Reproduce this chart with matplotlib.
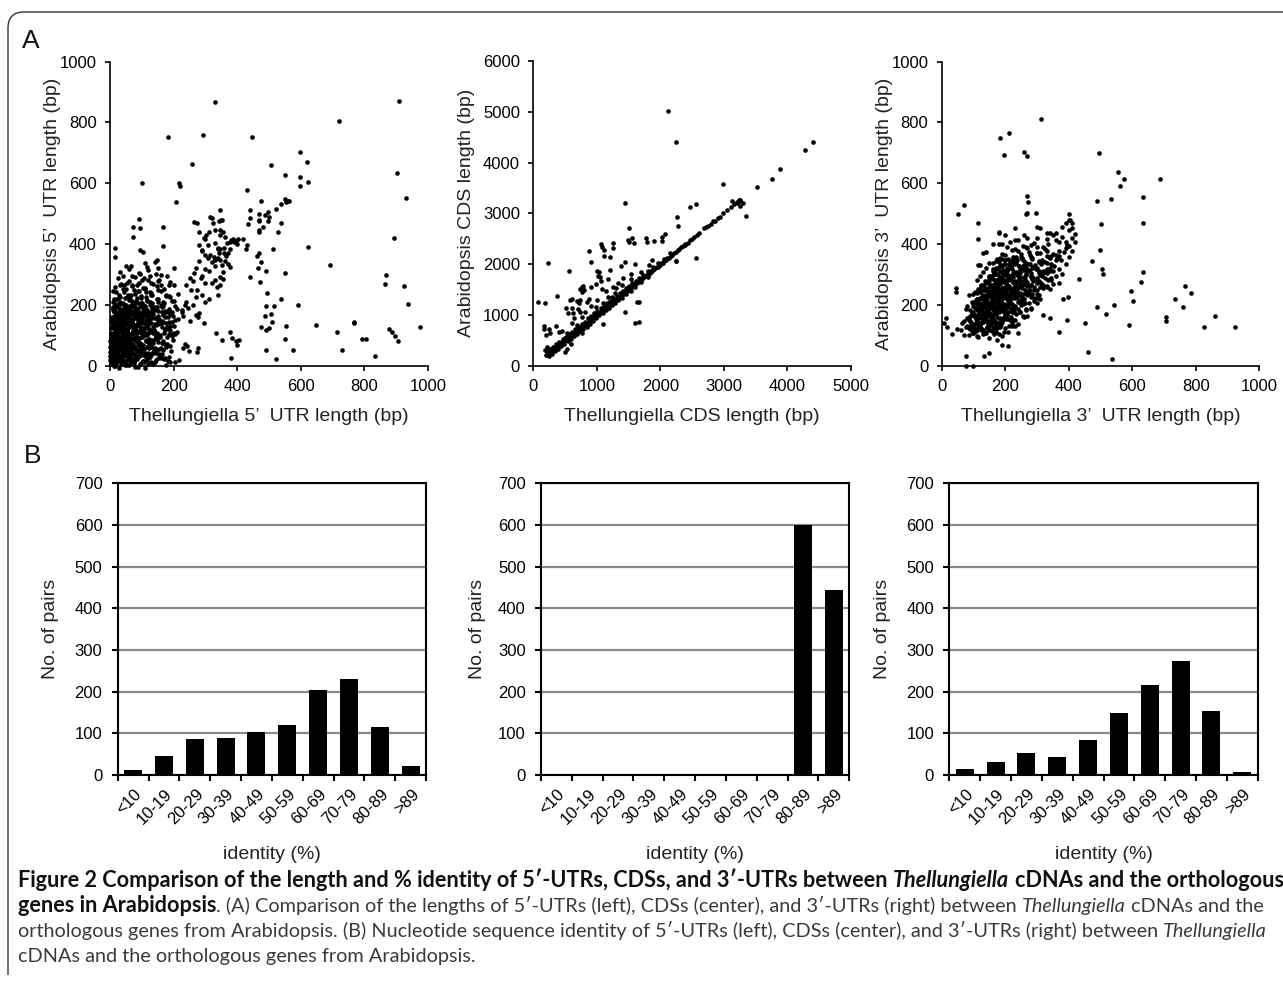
import numpy as np
import matplotlib
matplotlib.use('Agg')
import matplotlib.pyplot as plt
from matplotlib.path import Path
from matplotlib.patches import PathPatch
from matplotlib.transforms import ScaledTranslation

# ---------------- data ----------------
# Panel A-left: 5'UTR lengths (Thellungiella x, Arabidopsis y)
p1_points = [(330,866),(910,870),(719,804),(183,752),(292,760),(448,752),(257,663),(507,660),(596,703),(619,669),
 (901,635),(549,628),(599,622),(622,604),(596,592),(102,600),(218,602),(221,592),(930,553),(432,578),(206,537),
 (474,541),(549,548),(561,541),(553,537),(564,541),(522,516),(538,531),(441,512),(470,500),(486,496),(500,488),
 (498,505),(439,485),(435,466),(468,476),(470,479),(482,457),(498,476),(538,470),(528,441),(470,439),(468,446),
 (892,421),(622,392),(514,384),(470,370),(463,362),(388,417),(402,416),(399,399),(378,406),(395,411),(419,416),
 (430,397),(427,383),(441,293),(476,341),(465,320),(490,312),(549,306),(473,274),(693,331),(868,298),(864,268),
 (925,262),(938,203),(975,128),(590,200),(537,221),(493,238),(489,196),(487,164),(507,171),(517,196),(509,145),
 (501,123),(475,126),(490,117),(490,52),(549,88),(554,130),(574,52),(523,21),(648,134),(713,112),(731,52),
 (766,145),(768,139),(792,88),(806,88),(832,32),(876,121),(887,112),(896,98),(906,80),(378,112),(383,92),
 (395,82),(405,84),(399,68),(332,109),(351,83),(380,24),(278,159),(296,139),(276,57),(273,44),(243,65),(247,48),
 (229,57),(236,73),(217,19),(181,16),(186,30),(173,24),(168,52),(193,49),(199,84),(202,106),(346,512),(353,478),
 (316,488),(325,470),(346,447),(362,424),(342,477),(265,474),(281,439),(296,421),(302,429),(279,397),(290,380),
 (309,397),(339,383),(346,385),(343,370),(341,353),(326,357),(307,355),(315,365),(368,404),(376,383),(365,362),
 (363,346),(353,331),(376,326),(355,284),(346,265),(336,260),(340,234),(167,457),(73,455),(71,424),(92,481),
 (94,454),(95,380),(104,375),(16,386),(15,356),(31,309),(66,328),(168,395),(147,348),(143,342),(115,326)]
p1_bands = [
 (5,[2,6,12,20,28,40,52,66,80,95,110,130]),
 (15,[3,9,14,22,31,38,47,58,70,84,97,115,135,160,190]),
 (25,[1,5,11,18,25,33,44,56,67,79,92,108,125,150]),
 (35,[2,7,13,20,27,35,46,60,72,86,101,118,140]),
 (45,[4,10,16,24,30,39,50,62,75,90,104,122,145]),
 (55,[1,6,12,19,26,34,42,53,65,78,93,110,130,155]),
 (65,[3,9,15,23,31,40,49,59,70,84,99,115,136,160,190]),
 (75,[2,7,14,21,29,37,47,57,68,80,95,112,128,150,175]),
 (85,[5,11,18,26,34,43,52,63,75,88,102,120,140,165,195]),
 (95,[3,8,16,24,33,41,50,60,72,85,98,113,132,152,178,205]),
 (105,[6,12,20,29,38,47,57,68,80,93,108,125,145,170,196]),
 (115,[4,10,18,27,36,45,55,66,78,90,104,120,138,158,185,210]),
 (125,[8,15,23,32,42,52,63,74,86,99,114,130,150,172,200]),
 (135,[5,13,21,30,40,50,60,72,84,97,112,128,146,166,190]),
 (145,[10,18,27,37,47,58,69,81,94,108,124,142,162,184,215]),
 (155,[7,15,25,35,46,57,68,80,93,107,122,140,160,182,205]),
 (165,[12,22,33,44,56,68,80,93,106,120,136,155,176,198]),
 (175,[9,19,30,42,54,66,79,92,105,119,135,152,172,195,225]),
 (185,[15,27,39,51,64,77,90,104,118,133,150,168,188,210]),
 (195,[11,24,37,50,63,76,89,103,117,132,148,166,186,205]),
 (205,[18,32,46,60,74,88,102,117,132,150,170,195]),
 (215,[8,22,38,55,70,85,100,115,130,148,168,190]),
 (225,[14,30,48,66,82,98,114,132,150,175,200]),
 (235,[10,28,45,62,80,96,112,130,160,185,215]),
 (245,[20,40,58,75,92,110,128,150,175]),
 (255,[30,50,68,88,105,125,148,170,200]),
 (265,[15,45,70,90,110,135,160,190]),
 (275,[35,60,85,108,130,155,185]),
 (285,[25,55,80,100,125,150]),
 (295,[40,70,95,120,145,180]),
 (310,[60,90,120,160,200]),
 (330,[50,110,150]),
 (160,[230,250,270]), (180,[225,245,280]), (200,[235,260,300]), (220,[240,270,310]),
 (240,[255,290]), (260,[240,275,320]), (280,[260,285,300,330]), (300,[250,265,290,310,345]),
 (320,[270,300,330,355]), (340,[280,320,345,370]), (360,[300,330,360]), (380,[290,340,372]),
 (400,[330,360,390]), (420,[300,345,380]), (440,[310,355]), (460,[275,330]), (480,[320,350]),
 # denser core
 (10,[1,4,8,17,25,35,46,60,74,88,103,120,145,175,205]),
 (20,[2,7,12,19,27,36,50,63,76,90,105,122,142,170]),
 (30,[3,9,16,23,30,41,52,64,78,94,112,132,160]),
 (40,[1,5,11,18,26,33,44,56,69,82,97,113,132,155]),
 (50,[3,9,15,22,29,37,47,58,71,85,100,118,138,165]),
 (60,[2,7,13,20,28,36,45,55,66,78,91,106,124,145,172]),
 (70,[4,10,18,26,34,43,53,64,75,89,104,121,142,168]),
 (80,[1,8,15,23,31,40,49,59,71,83,97,112,130,152,180]),
 (90,[6,13,21,29,38,46,56,67,79,92,107,124,144,168]),
 (100,[2,9,16,25,34,43,53,63,75,88,102,117,136,158,185]),
 (110,[7,15,23,32,41,51,61,72,84,97,112,129,148,172]),
 (120,[3,12,20,29,38,48,58,69,81,94,108,124,142,163,190]),
 (130,[9,17,26,35,45,55,66,78,91,105,120,137,158,180]),
 (140,[4,14,23,33,43,53,64,76,88,102,117,134,154,176]),
 (150,[11,20,30,40,51,62,74,87,100,115,131,150,172,196]),
 (160,[6,17,27,38,49,61,73,86,99,113,129,147,168]),
 (170,[14,25,36,48,60,72,85,98,112,127,145,165,188]),
 (180,[8,21,33,45,58,71,84,98,112,128,146,166]),
 (190,[17,30,43,56,70,83,97,111,126,143,162,182]),
 (200,[12,26,40,54,68,82,96,110,125,142,160]),
]
# per-point vertical spread (data units) read as the scatter within each band
p1_band_spread = [0, 9, -6, 4, -11, 12, -3, 7, -9, 2, -13, 6, -4, 10, -7, 1, -1, 8, -12, 5]

# Panel A-center: CDS lengths
p2_points = [(2114,5022),(2240,4405),(4276,4241),(4407,4405),(3883,3880),(3762,3676),(3515,3519),(2991,3584),
 (1443,3197),(2466,3131),(2566,3177),(2261,2928),(2282,2744),(3342,2954),(1506,2718),(1495,2475),(1500,2430),
 (1553,2520),(1580,2420),(1249,2416),(1249,2311),(1060,2390),(1081,2331),(1118,2278),(876,2265),(1118,2160),
 (1212,2147),(1773,2521),(1784,2442),(1905,2455),(2020,2540),(2020,2455),(2067,2587),(236,2015),(567,1871),
 (913,2048),(997,1864),(1039,1838),(1013,1772),(1050,1740),(1065,1674),(1180,1700),(1537,1812),(1868,2081),
 (765,1556),(776,1503),(787,1569),(803,1490),(740,1510),(760,1451),(378,1379),(572,1293),(614,1320),(520,1130),
 (614,1143),(173,790),(173,725),(194,604),(246,725),(68,1261),(189,1228),(352,788),(1600,836),(1668,860),
 (1438,1064),(1091,814),(2555,2121),(2245,2055),(3253,3145),(3300,3197),(3253,3263),(3122,3237),(3200,3197),
 (498,269),(598,427),(535,322),(210,374),(189,309),(1207,1884),(1375,1970),(1443,2035),(1595,2002),(913,1556),
 (986,1608),(1081,1516),(1249,1556),(1301,1523),(1396,1589),(1532,1700),(682,1280),(729,1293),(724,1228),
 (840,1261),(871,1306),(551,1031),(630,1044),(735,1064),(404,670),(451,683),(535,650),(498,538),(1627,1247),
 (1668,1247),(761,965),(840,768),(1102,1228),(1180,1359),(1291,1425),(986,1162),(262,637),(603,834),(682,801),
 (761,637),(2380,2380),(2250,2060),(905,1180),(1000,1300),(1150,1480),(1330,1620),(640,940),(700,1120),
 (820,1060),(1240,1350),(1410,1720),(1700,1850),(1820,1990)]
p2_diag = [(200,205),(215,210),(232,240),(248,245),(265,272),(280,276),(298,305),(315,310),(330,338),(348,345),
 (365,372),(382,378),(400,408),(418,412),(435,440),(452,450),(470,478),(488,482),(505,512),(522,518),(540,548),
 (558,552),(575,580),(592,590),(610,618),(628,622),(645,650),(662,660),(680,688),(698,692),(715,720),(732,728),
 (750,758),(768,762),(785,790),(802,800),(820,828),(838,832),(855,860),(872,870),(890,898),(908,902),(925,930),
 (942,940),(960,968),(978,972),(995,1000),(1012,1010),(1030,1038),(1048,1042),(1065,1070),(1082,1080),
 (1100,1108),(1118,1112),(1135,1140),(1152,1150),(1170,1178),(1188,1182),(1205,1210),(1222,1220),(1240,1248),
 (1258,1252),(1275,1280),(1292,1290),(1310,1318),(1328,1322),(1345,1350),(1362,1360),(1380,1388),(1398,1392),
 (1415,1420),(1432,1430),(1450,1458),(1468,1462),(1485,1490),(1502,1500),(1520,1528),(1538,1532),(1555,1560),
 (1572,1570),(1590,1598),(1608,1602),(1625,1630),(1642,1640),(1660,1668),(1678,1672),(1695,1700),(1712,1710),
 (1730,1738),(1748,1742),(1765,1770),(1782,1780),(1800,1808),(1818,1812),(1835,1840),(1852,1850),(1870,1878),
 (1888,1882),(1905,1910),(1922,1920),(1940,1948),(1958,1952),(1975,1980),(1992,1990),(2010,2018),(2035,2030),
 (2060,2068),(2085,2080),(2110,2118),(2135,2130),(2160,2168),(2185,2180),(2210,2218),(2240,2235),(2270,2278),
 (2300,2295),(2330,2338),(2360,2355),(2395,2400),(2430,2425),(2465,2470),(2500,2495),(2535,2540),(2570,2565),
 (2610,2605),(2690,2720),(2720,2730),(2750,2745),(2790,2800),(2830,2840),(2860,2850),(2900,2910),(2940,2935),
 (2990,3000),(3050,3060),(3110,3130),(3160,3180),(3200,3230),(3230,3260),(3260,3250),
 (210,260),(260,330),(310,370),(360,430),(410,470),(460,530),(510,570),(560,630),(610,670),(660,730),(710,770),
 (760,830),(810,870),(860,930),(910,970),(960,1030),(1010,1070),(1060,1130),(1110,1170),(1160,1230),(1210,1270),
 (1260,1330),(1310,1370),(1360,1430),(1410,1470),(1460,1530),(1510,1570),(1560,1630),(1610,1670),(1660,1720),
 (1720,1790),(1800,1860),(1880,1940),(1960,2030),(2050,2110),(2150,2210),
 (240,190),(290,235),(340,290),(390,330),(440,390),(490,430),(540,490),(590,530),(640,590),(690,630),(740,690),
 (790,730),(840,790),(890,830),(940,890),(990,930),(1040,990),(1090,1030),(1140,1090),(1190,1130),(1240,1190),
 (1290,1230),(1340,1290),(1400,1340),(1460,1410),(1530,1470),(1600,1550),(1700,1640),(1800,1750)]

# Panel A-right: 3'UTR lengths
p3_points = [(313,811),(185,749),(211,764),(197,693),(258,704),(269,689),(494,700),(554,637),(574,614),(561,591),
 (686,614),(532,547),(633,555),(633,469),(503,467),(490,543),(69,530),(50,498),(268,558),(271,537),(267,498),
 (270,501),(298,502),(115,470),(498,380),(473,345),(634,308),(505,318),(507,300),(626,274),(766,262),(733,220),
 (760,192),(786,238),(595,247),(602,214),(541,200),(516,170),(488,194),(589,134),(706,159),(707,148),(826,126),
 (861,164),(925,126),(452,141),(462,46),(535,22),(369,110),(383,219),(397,227),(433,284),(393,150),(341,156),
 (319,166),(6,141),(18,128),(33,104),(48,121),(15,157),(45,254),(46,243),(78,32),(76,0),(100,0),(133,32),
 (150,41),(139,375),(113,417),(173,84),(190,67),(208,65)]
p3_bands = [
 (100,[85,100,115,130,150,170,190,240]),
 (110,[70,95,110,125,140,160,180,210]),
 (120,[60,80,100,115,128,142,158,175,195,230]),
 (130,[75,92,105,118,130,145,160,178,200,220]),
 (140,[65,85,100,112,125,138,150,165,182,205,240]),
 (150,[80,95,108,120,132,145,158,172,190,215,260]),
 (160,[70,90,105,118,130,142,155,168,183,200,225,270]),
 (170,[85,100,115,128,140,152,165,178,192,210,235]),
 (180,[75,95,110,124,136,148,160,172,186,200,218,245,280]),
 (190,[90,105,120,132,144,156,168,180,194,210,228,255]),
 (200,[80,100,115,128,140,152,164,176,190,205,222,240,265,300]),
 (210,[95,110,125,138,150,162,175,188,202,216,232,250,275]),
 (220,[85,105,120,134,146,158,170,183,197,212,228,246,268,310]),
 (230,[100,115,130,143,155,167,180,194,208,224,240,260,285]),
 (240,[110,125,140,152,164,176,190,204,218,234,252,272,300,340]),
 (250,[105,120,135,148,160,172,186,200,215,230,248,268,290,320]),
 (260,[115,130,145,158,170,184,198,212,228,245,262,282,310,350]),
 (270,[125,140,155,168,182,196,210,225,240,258,278,300,330]),
 (280,[110,135,150,165,180,195,210,225,242,260,280,305,340,370]),
 (290,[120,145,162,178,194,210,226,244,264,286,315,345]),
 (300,[130,155,172,190,206,222,240,258,280,300,325,360]),
 (310,[140,165,185,202,220,238,256,276,298,320,350,380]),
 (320,[120,160,180,200,218,236,255,275,295,318,340,370]),
 (330,[150,175,195,215,235,255,275,300,325,355,390]),
 (340,[115,170,190,212,232,254,278,305,330,360]),
 (350,[160,185,210,235,260,285,315,345,375,400]),
 (360,[175,200,225,250,280,310,340,370]),
 (370,[190,220,250,275,300,330,360,385]),
 (380,[130,205,240,270,300,325,350,390,410]),
 (390,[180,230,265,300,335,370,400]),
 (400,[160,215,255,290,320,360,395,420]),
 (410,[190,240,280,330,370,410]),
 (420,[230,270,300,350,390]),
 (430,[180,260,340,380,420]),
 (440,[200,310,360,400]),
 (450,[180,230,330,380]),
 (460,[300,390,410]),
 (470,[410]), (480,[400]), (490,[400,405]),
 # denser core
 (115,[90,108,122,135,148,165,185]),
 (125,[85,98,110,122,136,150,167,188]),
 (135,[92,106,118,131,142,155,170,190,212]),
 (145,[88,102,115,127,140,152,164,178,196,222]),
 (155,[98,112,125,137,150,162,175,188,206,232]),
 (165,[95,110,122,134,146,158,171,185,198,218,248]),
 (175,[105,118,130,142,154,166,179,193,207,226,255]),
 (185,[100,114,127,140,152,164,176,190,204,220,240,266]),
 (195,[110,124,137,149,161,173,185,198,213,230,250,280]),
 (205,[104,118,132,145,157,170,182,195,209,225,244,262,292]),
 (215,[115,129,142,154,166,178,191,205,220,238,256,282]),
 (225,[110,125,138,151,163,175,188,201,216,233,252,274,300]),
 (235,[120,135,148,160,172,185,198,212,227,244,264,290]),
 (245,[130,144,157,169,181,194,208,222,238,256,278,305]),
 (255,[125,140,153,166,178,192,206,220,236,254,275,300,330]),
 (265,[135,150,163,176,190,204,218,234,250,270,292,318]),
 (275,[145,160,174,188,202,217,232,248,266,288,312,345]),
 (285,[140,155,170,185,200,215,230,246,262,280,300,325]),
 (295,[150,166,182,198,214,230,248,266,285,308,335]),
 (305,[160,176,193,210,228,246,264,284,306,332]),
 (315,[170,190,208,226,244,264,284,306,330]),
 (325,[165,185,205,225,246,266,288,312,340]),
 (335,[180,200,222,244,266,290,315,345]),
 (345,[190,212,236,260,284,310,338]),
 (355,[200,226,252,278,305,332,362]),
]
p3_band_spread = [0, 8, -6, 3, -10, 12, -2, 6, -9, 4, -13, 7, -4, 11, -7, 1, -1, 9, -12, 5]

# Panel B: identity histograms
identity_bins = ['<10', '10-19', '20-29', '30-39', '40-49', '50-59', '60-69', '70-79', '80-89', '>89']
utr5_counts = [12, 45, 86, 88, 103, 120, 203, 230, 115, 21]
cds_counts = [0, 0, 0, 0, 0, 0, 0, 0, 601, 443]
utr3_counts = [14, 31, 53, 43, 84, 148, 215, 273, 153, 6]

# ---------------- figure ----------------
W, H = 1283, 984
plt.rcParams['font.family'] = ['Liberation Sans', 'DejaVu Sans']
fig = plt.figure(figsize=(W / 100, H / 100), dpi=100)


def rect(l, r, t, b):
    return [l / W, 1 - b / H, (r - l) / W, (b - t) / H]


def collect(points, bands=(), spread=(0,)):
    xs = [p[0] for p in points]
    ys = [p[1] for p in points]
    k = 0
    for yv, xl in bands:
        for xv in xl:
            xs.append(xv)
            ys.append(yv + spread[k % len(spread)])
            k += 1
    return np.array(xs), np.array(ys)


def scatter_panel(r, x, y, xmax, ymax, xstep, ystep, xlabel, ylabel, ylab_px):
    ax = fig.add_axes(r)
    ax.scatter(x, y, s=11, c='black', marker='o', linewidths=0, clip_on=False, zorder=3)
    ax.set_xlim(0, xmax)
    ax.set_ylim(0, ymax)
    ax.set_xticks(np.arange(0, xmax + 1, xstep))
    ax.set_yticks(np.arange(0, ymax + 1, ystep))
    for s in ['top', 'right']:
        ax.spines[s].set_visible(False)
    for s in ['left', 'bottom']:
        ax.spines[s].set_linewidth(1.2)
    ax.tick_params(direction='out', length=3.6, width=1.2, labelsize=12, pad=6, colors='black')
    ax.set_xlabel(xlabel, fontsize=14, color='#222222')
    ax.set_ylabel(ylabel, fontsize=14, color='#222222')
    pos = ax.get_position()
    ax.xaxis.set_label_coords(0.5, -(408 - 366) / (pos.height * H))
    ax.yaxis.set_label_coords(ylab_px / (pos.width * W), 0.5)
    return ax


x1, y1 = collect(p1_points, p1_bands, p1_band_spread)
scatter_panel(rect(110, 428, 61.7, 365.7), x1, y1, 1000, 1000, 200, 200,
              'Thellungiella 5’  UTR length (bp)', 'Arabidopsis 5’  UTR length (bp)', 61 - 110)
x2, y2 = collect(p2_points + p2_diag)
scatter_panel(rect(533.3, 851, 61, 365.7), x2, y2, 5000, 6000, 1000, 1000,
              'Thellungiella CDS length (bp)', 'Arabidopsis CDS length (bp)', 475 - 533.3)
x3, y3 = collect(p3_points, p3_bands, p3_band_spread)
scatter_panel(rect(941.7, 1259.3, 61.7, 365.7), x3, y3, 1000, 1000, 200, 200,
              'Thellungiella 3’  UTR length (bp)', 'Arabidopsis 3’  UTR length (bp)', 893 - 941.7)


def bar_panel(r, counts, ylab_px):
    ax = fig.add_axes(r)
    pos = np.arange(len(identity_bins))
    ax.bar(pos, counts, width=0.58, color='black', zorder=3)
    ax.set_xlim(-0.5, len(identity_bins) - 0.5)
    ax.set_ylim(0, 700)
    ax.set_yticks(np.arange(0, 701, 100))
    ax.yaxis.grid(True, color='#8a8a8a', linewidth=1.6, zorder=0)
    ax.set_axisbelow(True)
    for s in ax.spines.values():
        s.set_linewidth(1.5)
        s.set_color('black')
    ax.set_xticks(pos)
    ax.set_xticklabels(identity_bins, rotation=45, ha='right', va='center',
                       rotation_mode='anchor', fontsize=12)
    ax.set_xticks(np.arange(-0.5, len(identity_bins)), minor=True)
    ax.tick_params(axis='x', which='major', length=0, pad=12)
    ax.tick_params(axis='x', which='minor', direction='out', length=4, width=1.5)
    ax.tick_params(axis='y', direction='out', length=4, width=1.5, labelsize=12, pad=7)
    for lab in ax.get_xticklabels():
        lab.set_transform(lab.get_transform() + ScaledTranslation(0.06, 0, fig.dpi_scale_trans))
    ax.set_xlabel('identity (%)', fontsize=14, color='#222222')
    ax.set_ylabel('No. of pairs', fontsize=14, color='#222222')
    p = ax.get_position()
    ax.xaxis.set_label_coords(0.5, -(846 - 775) / (p.height * H))
    ax.yaxis.set_label_coords(ylab_px / (p.width * W), 0.5)
    return ax


bar_panel(rect(117.7, 426, 483.3, 775), utr5_counts, 59 - 117.7)
bar_panel(rect(541, 849.3, 483.3, 775), cds_counts, 486 - 541)
bar_panel(rect(949.3, 1257.7, 483.3, 775), utr3_counts, 891 - 949.3)

# panel letters
fig.text(22 / W, 1 - 48 / H, 'A', fontsize=19, va='baseline', ha='left', color='#111111')
fig.text(24 / W, 1 - 463 / H, 'B', fontsize=19, va='baseline', ha='left', color='#111111')

# frame with rounded top-left corner
verts = [(8 / W, 1 - 975 / H), (8 / W, 1 - 28 / H), (8 / W, 1 - 12 / H), (24 / W, 1 - 12 / H), (1, 1 - 12 / H)]
codes = [Path.MOVETO, Path.LINETO, Path.CURVE3, Path.CURVE3, Path.LINETO]
fig.add_artist(PathPatch(Path(verts, codes), transform=fig.transFigure, fill=False,
                         edgecolor='#333333', linewidth=1.0))

# caption
renderer = fig.canvas.get_renderer()
cap_font = ['Lato', 'Open Sans', 'DejaVu Sans']


def measure(s, size, weight='normal', style='normal'):
    t = fig.text(0, 0, s, fontsize=size, fontweight=weight, fontstyle=style, family=cap_font)
    w = t.get_window_extent(renderer).width
    t.remove()
    return w


def space_w(size):
    return measure('a a', size) - measure('aa', size)


def run_width(runs, sizes):
    total = 0
    for txt, wt, st, col in runs:
        size = sizes[wt]
        core = txt.strip(' ')
        n_sp = len(txt) - len(core)
        total += space_w(size) * n_sp + (measure(core, size, wt, st) if core else 0)
    return total


def draw_runs(runs, x0, baseline, sizes):
    x = x0
    for txt, wt, st, col in runs:
        size = sizes[wt]
        core = txt.strip(' ')
        lead = len(txt) - len(txt.lstrip(' '))
        trail = len(txt) - len(txt.rstrip(' '))
        sp = space_w(size)
        x += sp * lead
        if core:
            fig.text(x / W, 1 - baseline / H, core, fontsize=size, fontweight=wt, fontstyle=st,
                     family=cap_font, color=col, va='baseline', ha='left')
            x += measure(core, size, wt, st)
        x += sp * trail


K = '#111111'
G = '#3a3a3a'
line1 = [('Figure 2 Comparison of the length and % identity of 5′-UTRs, CDSs, and 3′-UTRs between ', 'bold', 'normal', K),
         ('Thellungiella', 'bold', 'italic', K), (' cDNAs and the orthologous', 'bold', 'normal', K)]
line2 = [('genes in Arabidopsis', 'bold', 'normal', K),
         ('. (A) Comparison of the lengths of 5′-UTRs (left), CDSs (center), and 3′-UTRs (right) between ', 'normal', 'normal', G),
         ('Thellungiella', 'normal', 'italic', G), (' cDNAs and the', 'normal', 'normal', G)]
line3 = [('orthologous genes from Arabidopsis. (B) Nucleotide sequence identity of 5′-UTRs (left), CDSs (center), and 3′-UTRs (right) between ', 'normal', 'normal', G),
         ('Thellungiella', 'normal', 'italic', G)]
line4 = [('cDNAs and the orthologous genes from Arabidopsis.', 'normal', 'normal', G)]

base = 10.0
bold_size = base * 1262 / run_width(line1, {'bold': base, 'normal': base})
reg_size = base * 1250 / run_width(line3, {'bold': base, 'normal': base})
sizes = {'bold': bold_size, 'normal': reg_size}
for ln, bl in zip([line1, line2, line3, line4], [887, 912, 937, 962]):
    draw_runs(ln, 18, bl, sizes)

fig.savefig('out.png', dpi=100)
